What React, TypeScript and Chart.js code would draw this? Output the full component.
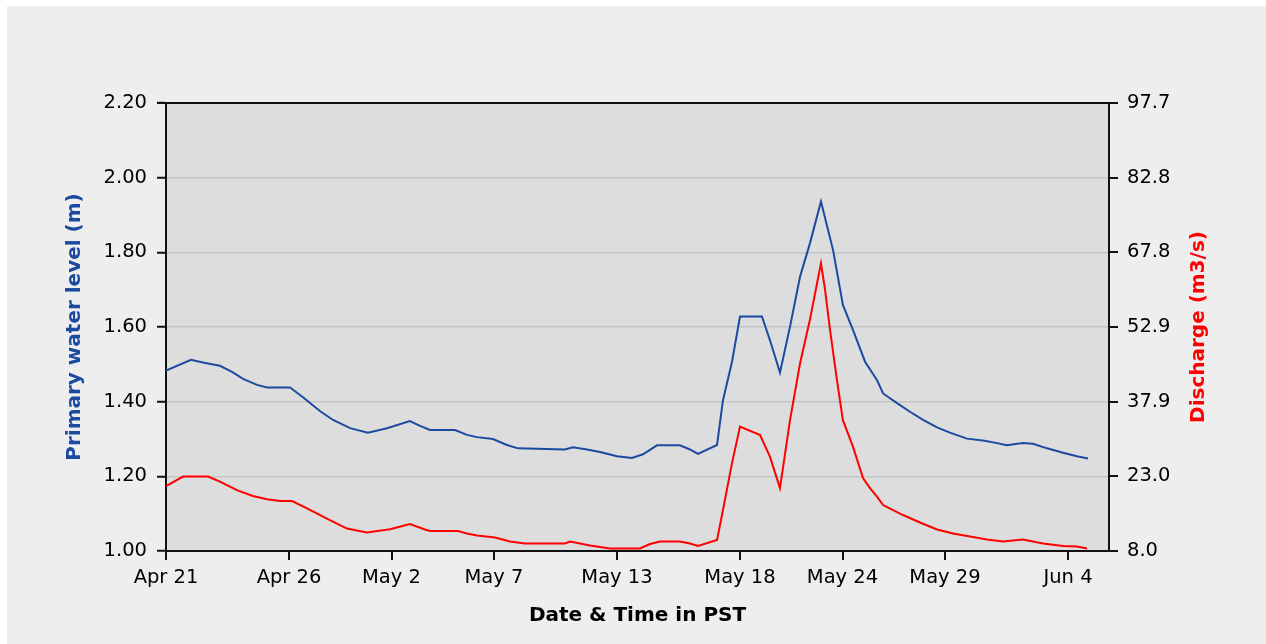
import React, { useEffect, useRef } from "react";
import { Chart, registerables } from "chart.js";

Chart.register(...registerables);

// ---- Data (x in days since Apr 21) ----
const xTickDays = [0, 6, 11, 16, 22, 28, 33, 38, 44];
const xTickLabels = ["Apr 21", "Apr 26", "May 2", "May 7", "May 13", "May 18", "May 24", "May 29", "Jun 4"];
const leftTicks = [1.0, 1.2, 1.4, 1.6, 1.8, 2.0, 2.2];
const rightTickLabels = ["8.0", "23.0", "37.9", "52.9", "67.8", "82.8", "97.7"];
const rightMin = 8.0;
const rightMax = 97.7;

const levelDays = [0, 1.22, 1.8, 2.63, 3.22, 3.76, 4.44, 4.93, 6.05, 6.68, 7.51, 8.15, 8.98, 9.85, 10.78, 11.9, 12.39, 12.88, 14.1, 14.68, 15.17, 15.95, 16.63, 17.17, 19.46, 19.85, 20.54, 21.17, 22.0, 22.73, 23.27, 23.95, 25.07, 25.56, 25.95, 26.88, 27.17, 27.61, 28.0, 29.07, 29.46, 29.95, 30.44, 30.93, 31.41, 31.95, 32.54, 33.02, 33.51, 34.1, 34.68, 34.98, 35.66, 36.29, 36.93, 37.61, 38.24, 39.07, 39.85, 40.54, 41.02, 41.8, 42.29, 42.98, 43.76, 44.44, 44.98];
const levelValues = [1.483, 1.512, 1.505, 1.496, 1.48, 1.461, 1.445, 1.438, 1.438, 1.412, 1.375, 1.351, 1.329, 1.317, 1.329, 1.348, 1.335, 1.324, 1.324, 1.311, 1.305, 1.3, 1.284, 1.275, 1.272, 1.278, 1.272, 1.265, 1.254, 1.249, 1.259, 1.283, 1.283, 1.272, 1.26, 1.284, 1.404, 1.507, 1.628, 1.628, 1.565, 1.478, 1.601, 1.735, 1.824, 1.936, 1.806, 1.659, 1.592, 1.507, 1.458, 1.422, 1.396, 1.373, 1.351, 1.331, 1.317, 1.301, 1.296, 1.289, 1.283, 1.289, 1.287, 1.275, 1.263, 1.254, 1.248];

const flowDays = [0, 0.83, 2.05, 2.63, 3.46, 4.24, 4.93, 5.56, 6.15, 6.88, 7.85, 8.83, 9.8, 10.93, 11.9, 12.63, 12.88, 14.24, 14.68, 15.17, 16.05, 16.78, 17.51, 19.46, 19.71, 20.68, 21.66, 23.12, 23.61, 24.1, 25.07, 25.56, 25.95, 26.88, 27.17, 27.61, 28.0, 28.98, 29.46, 29.95, 30.44, 30.93, 31.41, 31.95, 32.15, 32.39, 32.73, 33.02, 33.51, 34.0, 34.34, 34.68, 34.98, 35.95, 36.78, 37.61, 38.39, 39.22, 40.05, 40.83, 41.8, 42.78, 43.76, 44.44, 44.93];
const flowValues = [21.0, 22.9, 22.9, 21.9, 20.2, 19.0, 18.35, 18.0, 18.0, 16.55, 14.5, 12.5, 11.7, 12.35, 13.4, 12.3, 12.0, 12.0, 11.5, 11.1, 10.7, 9.9, 9.5, 9.5, 9.9, 9.1, 8.5, 8.5, 9.4, 9.9, 9.9, 9.5, 9.0, 10.2, 16.2, 25.6, 32.9, 31.2, 26.9, 20.6, 34.2, 45.6, 54.3, 65.6, 60.3, 52.3, 42.2, 34.2, 28.9, 22.6, 20.6, 18.9, 17.2, 15.2, 13.7, 12.3, 11.5, 10.9, 10.3, 9.9, 10.3, 9.5, 9.0, 8.9, 8.5];

const BLUE = "#1c4aa0";
const RED = "#ff0000";
const W = 1259;
const H = 638;

export default function App() {
  const ref = useRef<HTMLCanvasElement | null>(null);

  useEffect(() => {
    if (!ref.current) return;
    const tickFont = { family: "'DejaVu Sans', sans-serif", size: 19.5 };
    const titleFont = { family: "'DejaVu Sans', sans-serif", size: 20, weight: "bold" as const };

    const framePlugin = {
      id: "frame",
      beforeDraw(chart: any) {
        const { ctx, chartArea } = chart;
        ctx.save();
        ctx.fillStyle = "#eeeeee";
        ctx.fillRect(0, 0, chart.width, chart.height);
        ctx.fillStyle = "#dddddd";
        ctx.fillRect(chartArea.left, chartArea.top, chartArea.right - chartArea.left, chartArea.bottom - chartArea.top);
        ctx.restore();
      },
      afterDraw(chart: any) {
        const { ctx, chartArea } = chart;
        ctx.save();
        ctx.strokeStyle = "#111111";
        ctx.lineWidth = 2;
        ctx.beginPath();
        ctx.moveTo(chartArea.left - 9, chartArea.top);
        ctx.lineTo(chartArea.right + 9, chartArea.top);
        ctx.stroke();
        // right axis title (reads bottom-to-top)
        ctx.translate(1192, (chartArea.top + chartArea.bottom) / 2);
        ctx.rotate(-Math.PI / 2);
        ctx.font = "bold 20px 'DejaVu Sans', sans-serif";
        ctx.fillStyle = RED;
        ctx.textAlign = "center";
        ctx.textBaseline = "middle";
        ctx.fillText("Discharge (m3/s)", 0, 0);
        ctx.restore();
      },
    };

    const chart = new Chart(ref.current, {
      type: "line",
      data: {
        datasets: [
          {
            label: "Primary water level (m)",
            data: levelDays.map((d, i) => ({ x: d, y: levelValues[i] })),
            borderColor: BLUE,
            borderWidth: 2,
            pointRadius: 0,
            tension: 0,
            yAxisID: "y",
          },
          {
            label: "Discharge (m3/s)",
            data: flowDays.map((d, i) => ({ x: d, y: flowValues[i] })),
            borderColor: RED,
            borderWidth: 2,
            pointRadius: 0,
            tension: 0,
            yAxisID: "y1",
          },
        ],
      },
      options: {
        animation: false,
        responsive: false,
        events: [],
        layout: { padding: { top: 97, left: 0, right: 0, bottom: 0 } },
        plugins: { legend: { display: false }, tooltip: { enabled: false } },
        scales: {
          x: {
            type: "linear",
            min: 0,
            max: 46,
            afterBuildTicks: (scale: any) => {
              scale.ticks = xTickDays.map((v) => ({ value: v }));
            },
            afterFit: (scale: any) => {
              scale.height = 93;
            },
            ticks: {
              autoSkip: false,
              maxRotation: 0,
              padding: 6,
              color: "#000000",
              font: tickFont,
              callback: (_v: any, i: number) => xTickLabels[i],
            },
            grid: { drawOnChartArea: false, tickLength: 9, tickColor: "#111111", tickWidth: 2, lineWidth: 2 },
            border: { display: true, color: "#111111", width: 2 },
            title: {
              display: true,
              text: "Date & Time in PST",
              color: "#000000",
              font: titleFont,
              padding: { top: 0, bottom: 16 },
            },
          },
          y: {
            position: "left",
            min: 1.0,
            max: 2.2,
            afterBuildTicks: (scale: any) => {
              scale.ticks = leftTicks.map((v) => ({ value: v }));
            },
            afterFit: (scale: any) => {
              scale.width = 159;
            },
            ticks: {
              padding: 10,
              color: "#000000",
              font: tickFont,
              callback: (v: any) => Number(v).toFixed(2),
            },
            grid: { color: "#c4c4c4", lineWidth: 1.5, tickLength: 9, tickColor: "#111111", tickWidth: 2 },
            border: { display: true, color: "#111111", width: 2 },
            title: {
              display: true,
              text: "Primary water level (m)",
              color: BLUE,
              font: titleFont,
              padding: { top: 56, bottom: 0 },
            },
          },
          y1: {
            position: "right",
            min: rightMin,
            max: rightMax,
            afterBuildTicks: (scale: any) => {
              scale.ticks = rightTickLabels.map((_, i) => ({
                value: rightMin + ((rightMax - rightMin) * i) / (rightTickLabels.length - 1),
              }));
            },
            afterFit: (scale: any) => {
              scale.width = 157;
            },
            ticks: {
              padding: 9,
              color: "#000000",
              font: tickFont,
              callback: (_v: any, i: number) => rightTickLabels[i],
            },
            grid: { drawOnChartArea: false, tickLength: 9, tickColor: "#111111", tickWidth: 2, lineWidth: 2 },
            border: { display: true, color: "#111111", width: 2 },
          },
        },
      },
      plugins: [framePlugin],
    } as any);

    return () => chart.destroy();
  }, []);

  return (
    <div style={{ position: "fixed", left: 7, top: 6, width: W, height: H, background: "#eeeeee" }}>
      <canvas ref={ref} width={W} height={H} style={{ width: W, height: H, display: "block" }} />
    </div>
  );
}
